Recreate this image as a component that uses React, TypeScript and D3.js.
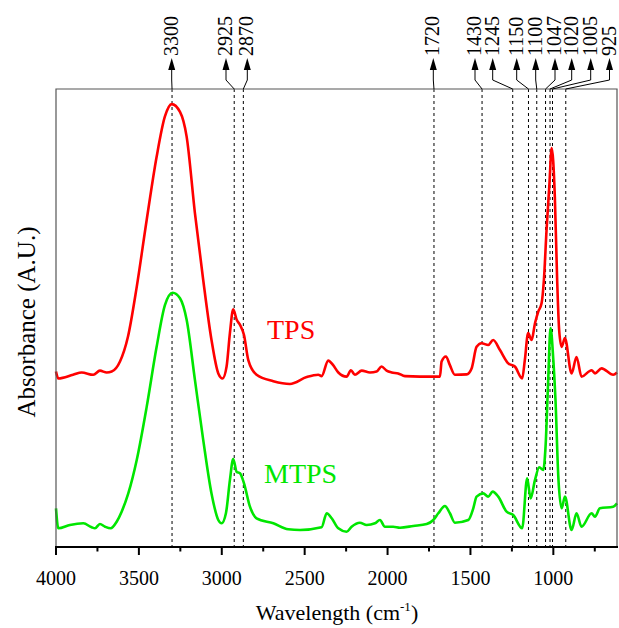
import React from "react";
import * as d3 from "d3";

// ---- data ----
const tpsWave = [4000, 3986, 3897, 3845, 3775, 3735, 3694, 3664, 3614, 3566, 3513, 3453, 3393, 3343, 3302, 3252, 3212, 3162, 3112, 3062, 3021, 2995, 2971, 2951, 2931, 2910, 2890, 2866, 2840, 2790, 2689, 2589, 2488, 2418, 2398, 2358, 2328, 2297, 2247, 2221, 2197, 2156, 2106, 2066, 2036, 2006, 1975, 1936, 1895, 1805, 1684, 1674, 1648, 1624, 1594, 1523, 1493, 1463, 1433, 1393, 1363, 1322, 1272, 1232, 1188, 1172, 1152, 1131, 1111, 1091, 1071, 1057, 1041, 1024, 1010, 991, 977, 965, 950, 930, 890, 860, 830, 769, 749, 709, 639, 616];
const tpsAbs = [38.3, 36.8, 37.6, 38.1, 37.6, 38.5, 38.1, 38.3, 40.5, 45.9, 56.8, 71.4, 85.2, 94.0, 96.7, 95.0, 89.6, 72.9, 58.3, 45.2, 37.9, 36.8, 39.4, 46.7, 51.9, 49.6, 48.5, 46.3, 40.8, 37.6, 36.2, 35.6, 37.1, 37.6, 37.3, 40.7, 39.7, 38.1, 37.2, 38.6, 37.6, 38.5, 38.1, 38.3, 39.4, 38.5, 38.1, 37.9, 37.3, 37.2, 37.2, 40.5, 41.6, 39.7, 37.6, 37.7, 39.0, 43.7, 44.5, 44.1, 45.2, 43.0, 40.1, 39.4, 36.8, 40.8, 46.7, 45.2, 48.8, 51.4, 53.2, 58.3, 69.2, 79.0, 87.1, 76.5, 58.3, 47.4, 43.7, 45.6, 37.9, 41.5, 37.2, 38.6, 37.9, 39.0, 37.6, 38.1];

const mtpsWave = [4000, 3986, 3916, 3835, 3785, 3765, 3735, 3704, 3670, 3634, 3604, 3564, 3513, 3453, 3393, 3343, 3296, 3252, 3212, 3162, 3112, 3062, 3021, 3001, 2975, 2951, 2931, 2910, 2890, 2866, 2830, 2790, 2689, 2599, 2528, 2398, 2367, 2337, 2297, 2247, 2217, 2167, 2126, 2076, 2046, 2016, 1966, 1925, 1845, 1764, 1724, 1694, 1654, 1624, 1594, 1513, 1483, 1463, 1423, 1393, 1366, 1332, 1282, 1242, 1188, 1158, 1137, 1111, 1085, 1061, 1047, 1031, 1017, 1000, 987, 970, 950, 930, 890, 860, 830, 769, 749, 719, 639, 616];
const mtpsAbs = [8.45, 4.08, 4.8, 5.17, 4.3, 4.08, 5.02, 4.43, 4.08, 5.52, 7.71, 11.7, 19.0, 30.6, 43.7, 52.8, 55.5, 54.3, 49.6, 36.5, 23.4, 11.7, 5.9, 5.17, 7.36, 14.6, 19.2, 16.4, 16.1, 13.9, 8.8, 6.27, 5.17, 3.86, 3.71, 4.3, 7.36, 6.27, 4.08, 3.34, 4.43, 5.31, 4.8, 5.17, 5.9, 4.43, 4.43, 4.21, 4.59, 5.02, 5.9, 7.36, 8.95, 7.36, 5.31, 5.9, 8.45, 11.0, 11.7, 11.0, 12.1, 11.0, 7.71, 6.99, 4.08, 15.0, 10.6, 14.6, 17.4, 16.8, 21.9, 36.5, 47.8, 40.8, 32.1, 15.3, 8.45, 11.0, 3.71, 7.36, 4.43, 7.36, 6.62, 8.45, 8.8, 9.54];

const markWaves = [3300, 2925, 2870, 1720, 1430, 1245, 1150, 1100, 1047, 1020, 1005, 925];
const markLabels = ["3300", "2925", "2870", "1720", "1430", "1245", "1150", "1100", "1047", "1020", "1005", "925"];

const majorTicks = [4000, 3500, 3000, 2500, 2000, 1500, 1000];
const minorTicks = [3750, 3250, 2750, 2250, 1750, 1250, 750];

// ---- layout (pixels) ----
const markLabelX = [171.7, 226, 247.3, 433.3, 475, 492.7, 516.7, 535.7, 555, 571.7, 590.7, 609.5];

const W = 619, H = 628;
const left = 56, right = 617, top = 89, bottom = 547;

export default function App() {
  const x = d3.scaleLinear().domain([4000, 616]).range([left, right]);
  const y = d3.scaleLinear().domain([0, 100]).range([bottom, top]);
  const line = d3
    .line<[number, number]>()
    .x((d) => x(d[0]))
    .y((d) => y(d[1]))
    .curve(d3.curveMonotoneX);
  const tps = line(tpsWave.map((w, i) => [w, tpsAbs[i]] as [number, number]));
  const mtps = line(mtpsWave.map((w, i) => [w, mtpsAbs[i]] as [number, number]));
  const font = "'Liberation Serif', 'Times New Roman', serif";
  const tipY = 58, arrowBase = 69, elbowY = 80;

  return (
    <svg
      width={W}
      height={H}
      style={{ position: "absolute", left: 0, top: 0, background: "#fff" }}
      fontFamily={font}
    >
      {/* dashed marker lines */}
      {markWaves.map((w, i) => (
        <line
          key={"d" + i}
          x1={x(w)}
          x2={x(w)}
          y1={top}
          y2={bottom}
          stroke="#000"
          strokeWidth={1}
          strokeDasharray="3,3"
        />
      ))}
      {/* curves */}
      <path d={tps || ""} fill="none" stroke="#ff0000" strokeWidth={2.6} strokeLinejoin="round" />
      <path d={mtps || ""} fill="none" stroke="#00e600" strokeWidth={2.6} strokeLinejoin="round" />
      {/* frame */}
      <path
        d={`M${left},${bottom} V${top} H${right} V${bottom}`}
        fill="none"
        stroke="#555"
        strokeWidth={1.2}
      />
      <line x1={left - 1} x2={right + 1} y1={bottom} y2={bottom} stroke="#000" strokeWidth={2} />
      {majorTicks.map((t) => (
        <g key={"t" + t}>
          <line x1={x(t)} x2={x(t)} y1={bottom} y2={bottom + 8} stroke="#000" strokeWidth={2} />
          <text x={x(t)} y={585} textAnchor="middle" fontSize={20} fill="#000">
            {t}
          </text>
        </g>
      ))}
      {minorTicks.map((t) => (
        <line key={"m" + t} x1={x(t)} x2={x(t)} y1={bottom} y2={bottom + 4.5} stroke="#000" strokeWidth={2} />
      ))}
      {/* axis titles */}
      <text x={337} y={620} textAnchor="middle" fontSize={22} fill="#000">
        Wavelength (cm
        <tspan fontSize={13} dy={-9}>-1</tspan>
        <tspan dy={9}>)</tspan>
      </text>
      <text
        transform={`translate(35,322) rotate(-90)`}
        textAnchor="middle"
        fontSize={25}
        fill="#000"
      >
        Absorbance (A.U.)
      </text>
      {/* curve labels */}
      <text x={267} y={339} fontSize={28} fill="#ff0000">TPS</text>
      <text x={264} y={483} fontSize={28} fill="#00e600">MTPS</text>
      {/* top annotation arrows */}
      {markWaves.map((w, i) => {
        const lx = markLabelX[i];
        const px = x(w);
        return (
          <g key={"a" + i}>
            <path
              d={`M${px},${top} L${lx},${elbowY} L${lx},${arrowBase}`}
              fill="none"
              stroke="#000"
              strokeWidth={1}
            />
            <path
              d={`M${lx},${tipY} L${lx - 3.5},${arrowBase + 1} L${lx + 3.5},${arrowBase + 1} Z`}
              fill="#000"
            />
            <text
              transform={`translate(${lx + 6},${tipY - 2}) rotate(-90)`}
              fontSize={20}
              fill="#000"
            >
              {markLabels[i]}
            </text>
          </g>
        );
      })}
    </svg>
  );
}
